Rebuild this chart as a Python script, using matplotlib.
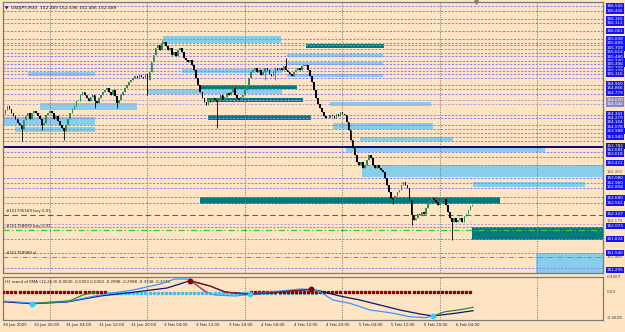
import numpy as np
import matplotlib
matplotlib.use("Agg")
import matplotlib.pyplot as plt
import matplotlib.transforms as mtransforms
from matplotlib.patches import Rectangle

# ─── Données (barres M30, barre 0 = 31 Jan 00:00) ───────────────────────────
FIRST_BAR = -23
OPEN0 = 154.35
CLOSES = [
    154.40, 154.48, 154.55, 154.50, 154.42, 154.35, 154.30, 154.22,
    154.18, 154.10, 154.28, 154.36, 154.42, 154.30, 154.42, 154.45,
    154.42, 154.36, 154.30, 154.18, 154.22, 154.38, 154.42, 154.46,
    154.42, 154.30, 154.36, 154.26, 154.18, 154.12, 154.06, 154.17,
    154.30, 154.42, 154.50, 154.56, 154.66, 154.66, 154.77, 154.83,
    154.77, 154.71, 154.66, 154.73, 154.77, 154.66, 154.61, 154.71,
    154.77, 154.83, 154.87, 154.91, 154.83, 154.77, 154.87, 154.75,
    154.61, 154.67, 154.77, 154.83, 154.91, 154.97, 155.03, 155.07,
    155.11, 155.15, 155.11, 155.17, 155.13, 155.11, 155.19, 155.07,
    155.23, 155.43, 155.57, 155.71, 155.77, 155.67, 155.79, 155.83,
    155.75, 155.67, 155.71, 155.57, 155.63, 155.55, 155.67, 155.71,
    155.63, 155.51, 155.47, 155.43, 155.47, 155.37, 155.27, 155.11,
    154.97, 154.83, 154.71, 154.63, 154.57, 154.67, 154.63, 154.71,
    154.67, 154.63, 154.71, 154.77, 154.67, 154.73, 154.81, 154.77,
    154.83, 154.91, 154.77, 154.71, 154.67, 154.73, 154.77, 154.87,
    154.97, 155.11, 155.23, 155.27, 155.31, 155.23, 155.27, 155.17,
    155.23, 155.31, 155.27, 155.19, 155.15, 155.23, 155.31, 155.27,
    155.31, 155.27, 155.35, 155.27, 155.23, 155.19, 155.15, 155.23,
    155.27, 155.31, 155.27, 155.35, 155.35, 155.37, 155.27, 155.15,
    155.03, 154.87, 154.71, 154.59, 154.51, 154.43, 154.35, 154.31,
    154.31, 154.37, 154.35, 154.31, 154.39, 154.35, 154.43, 154.39,
    154.37, 154.23, 154.08, 153.88, 153.72, 153.58, 153.44, 153.38,
    153.44, 153.32, 153.38, 153.48, 153.58, 153.52, 153.38, 153.32,
    153.38, 153.32, 153.28, 153.24, 153.12, 152.98, 152.84, 152.72,
    152.68, 152.76, 152.84, 152.88, 152.98, 153.04, 152.98, 152.92,
    152.68, 152.38, 152.29, 152.33, 152.41, 152.38, 152.45, 152.41,
    152.53, 152.61, 152.69, 152.73, 152.69, 152.65, 152.59, 152.65,
    152.69, 152.71, 152.59, 152.45, 152.33, 152.25, 152.33, 152.25,
    152.29, 152.33, 152.25, 152.37, 152.41, 152.49, 152.57, 152.59,
]
LOW_SPIKES = {-14: 153.85, -4: 154.08, 7: 153.88, 22: 154.51, 33: 154.51, 48: 154.77,
              82: 154.12, 106: 155.07, 111: 155.07, 169: 152.60, 178: 152.19, 198: 151.89}
HIGH_SPIKES = {55: 155.87, 116: 155.51, 90: 154.97}

# Zones (début, fin en barres ; bas, haut en prix ; type L = clair, D = foncé)
ZONE_START = [55.6, 126.0, 116.7, 116.7, 65.0, -10.8, 116.7, 73.9, 47.8, 77.3, -4.9, 137.9,
              77.8, -23.1, -17.2, 139.3, 152.6, 145.7, 153.6, 208.3, 73.9, 207.8, 239.3]
ZONE_END = [113.7, 164.4, 164.0, 164.0, 114.0, 22.2, 164.0, 121.6, 114.2, 124.6, 42.8, 187.6,
            128.5, 22.2, 22.2, 188.6, 198.4, 243.7, 290.0, 263.4, 221.6, 290.0, 290.0]
ZONE_LOW = [155.807, 155.707, 155.528, 155.369, 155.210, 155.151, 155.131, 154.892, 154.793,
            154.634, 154.475, 154.554, 154.276, 154.177, 154.038, 154.097, 153.859, 153.640,
            153.143, 152.944, 152.606, 151.891, 151.200]
ZONE_HIGH = [155.946, 155.787, 155.588, 155.429, 155.290, 155.230, 155.190, 154.972, 154.892,
             154.713, 154.614, 154.634, 154.375, 154.336, 154.137, 154.216, 153.938, 153.739,
             153.382, 153.044, 152.746, 152.149, 151.632]
ZONE_KIND = ["L", "D", "L", "L", "L", "L", "L", "D", "L", "D", "L", "L",
             "D", "L", "L", "L", "L", "L", "L", "L", "D", "D", "L"]

LEVELS = [156.542, 156.443, 156.284, 156.198, 156.045, 155.880, 155.813, 155.767, 155.693,
          155.602, 155.548, 155.449, 155.383, 155.304, 155.244, 155.190, 155.111, 154.966,
          154.886, 154.787, 154.375, 154.310, 154.177, 154.091, 154.024, 153.944, 153.865,
          153.646, 153.547, 153.382, 153.117, 153.030, 152.931, 152.740, 152.632, 152.143,
          151.903, 151.626, 151.328]
GREY_LEVELS = [154.674, 154.594, 152.211]
SUPPORT_LEVEL = 153.734
ORDER_PRICES = [152.388, 152.085, 151.559]
ORDER_TEXTS = ["#151735169 buy 0.01", "#151758839 buy 0.01", "#151759089 sl"]

AXIS_TEXTS = ["156.542", "156.445", "156.165", "156.113", "156.061", "155.838", "155.805",
              "155.709", "155.612", "155.480", "155.370", "155.306", "155.243", "155.179",
              "155.116", "154.960", "154.866", "154.779", "154.620", "154.542", "154.341",
              "154.279", "154.144", "154.078", "153.988", "153.940", "153.782", "153.681",
              "153.618", "153.421", "153.350", "153.080", "152.960", "152.858", "152.680",
              "152.561", "152.327", "152.170", "152.073", "151.824", "151.540", "151.466",
              "151.295"]
AXIS_PRICES = [156.542, 156.443, 156.284, 156.204, 156.045, 155.886, 155.813, 155.713,
               155.622, 155.534, 155.449, 155.383, 155.310, 155.250, 155.184, 154.986,
               154.906, 154.807, 154.674, 154.588, 154.389, 154.310, 154.230, 154.143,
               154.063, 153.944, 153.759, 153.680, 153.600, 153.415, 153.236, 153.117,
               153.030, 152.950, 152.732, 152.620, 152.408, 152.275, 152.170, 151.917,
               151.627, 151.559, 151.295]
AXIS_KIND = ["b"] * 18 + ["g", "g"] + ["b"] * 6 + ["n"] + ["b"] * 3 + ["t"] + ["b"] * 6 + \
            ["t", "b", "b", "b", "t", "b"]

TIME_BARS = [-23, -8, 8, 24, 40, 56, 72, 88, 104, 120, 136, 152, 168, 184, 200]
TIME_LABELS = ["30 Jan 2025", "30 Jan 20:00", "31 Jan 04:00", "31 Jan 12:00", "31 Jan 20:00",
               "3 Feb 04:00", "3 Feb 12:00", "3 Feb 20:00", "4 Feb 04:00", "4 Feb 12:00",
               "4 Feb 20:00", "5 Feb 04:00", "5 Feb 12:00", "5 Feb 20:00", "6 Feb 04:00"]
DAY_BARS = [0, 48, 96, 144, 192, 240]

# MACD
NAVY_X = [-23.1, -8.9, 8.4, 24.6, 40.9, 57.6, 68.9, 78.8, 86.2, 98.5, 114.7, 128.5, 132.9,
          142.8, 152.6, 162.5, 172.3, 182.2, 188.6, 199.4, 208.3]
NAVY_Y = [-0.213, -0.258, -0.22, -0.087, -0.004, 0.091, 0.253, 0.136, 0.002, -0.049, 0.009,
          0.062, 0.024, -0.087, -0.176, -0.287, -0.398, -0.487, -0.531, -0.471, -0.413]
BLUE_X = [-23.1, -8.9, 8.4, 24.6, 40.9, 54.2, 61.5, 68.9, 76.3, 81.2, 91.1, 98.5, 108.3,
          123.1, 128.5, 132.9, 139.3, 147.7, 157.6, 167.4, 177.3, 184.6, 188.6]
BLUE_Y = [-0.198, -0.242, -0.213, -0.064, 0.047, 0.18, 0.291, 0.291, 0.002, -0.064, -0.087,
          -0.049, 0.002, 0.069, 0.062, 0.009, -0.176, -0.249, -0.398, -0.458, -0.547, -0.569,
          -0.531]
GREEN1_X = [-8.9, 9.8, 16.2, 23.1]
GREEN1_Y = [-0.258, -0.191, -0.064, 0.002]
GREEN2_X = [188.6, 194.5, 201.9, 208.3]
GREEN2_Y = [-0.531, -0.436, -0.391, -0.338]
RED_X = [68.9, 77.3]
RED_Y = [0.253, 0.002]
MAROON_X = [68.9, 78.8, 86.2, 98.5, 114.7, 128.5]
MAROON_Y = [0.253, 0.136, 0.002, -0.049, 0.009, 0.062]
CROSS_UP_X = [-8.9, 98.5, 188.6]
CROSS_UP_Y = [-0.258, -0.049, -0.531]
CROSS_DN_X = [68.9, 128.5]
CROSS_DN_Y = [0.253, 0.062]
STATE_START = [-23, 29, 99]
STATE_END = [29, 133, 209]
STATE_KIND = ["dn", "up", "dn"]

# ─── Styles ─────────────────────────────────────────────────────────────────
BG = "#FFE4C4"
LIGHT = "#87CEEB"
DARK = "#007A80"
LEVEL_COLOR = "#8C7EF2"
FONT = "DejaVu Sans"
XLIM = (-23.14, 272.27)

fig = plt.figure(figsize=(6.25, 3.32), dpi=100, facecolor=BG)
ax = fig.add_axes([3 / 625, 1 - 273 / 332, 600 / 625, 271 / 332], facecolor=BG)
ax2 = fig.add_axes([3 / 625, 1 - 320 / 332, 600 / 625, 43 / 332], facecolor=BG)

for a in (ax, ax2):
    a.set_xlim(*XLIM)
    a.set_xticks([])
    a.set_yticks([])
    for s in a.spines.values():
        s.set_color("#7A7A7A")
        s.set_linewidth(0.9)
ax.set_ylim(151.235, 156.622)
ax2.set_ylim(-0.62, 0.336)

# ─── Zones ──────────────────────────────────────────────────────────────────
for x0, x1, lo, hi, k in zip(ZONE_START, ZONE_END, ZONE_LOW, ZONE_HIGH, ZONE_KIND):
    ax.add_patch(Rectangle((x0, lo), x1 - x0, hi - lo, facecolor=LIGHT if k == "L" else DARK,
                           edgecolor="none", zorder=1))

# ─── Niveaux ────────────────────────────────────────────────────────────────
for lv in LEVELS:
    ax.axhline(lv, color=LEVEL_COLOR, lw=0.75, ls=(0, (2.0, 1.5)), zorder=2)
for lv in GREY_LEVELS:
    ax.axhline(lv, color="#B0A4C8", lw=0.75, ls=(0, (2.0, 1.5)), zorder=2)
ax.axhline(SUPPORT_LEVEL, color="#0A0A78", lw=1.4, zorder=2)
ax.axhline(ORDER_PRICES[0], color="#2F7F2F", lw=0.8, ls=(0, (5, 3)), zorder=2)
ax.axhline(ORDER_PRICES[1], color="#33CC33", lw=0.9, ls=(0, (5, 2, 1, 2)), zorder=2)
ax.axhline(ORDER_PRICES[2], color="#F05A50", lw=0.7, ls=(0, (5, 2, 1, 2)), zorder=2)
for p, t in zip(ORDER_PRICES, ORDER_TEXTS):
    ax.text(-21.5, p + 0.035, t, fontsize=2.9, family=FONT, color="#202020",
            va="bottom", ha="left", zorder=5)

for a in (ax, ax2):
    for d in DAY_BARS:
        a.axvline(d, color="#707070", lw=0.7, ls=(0, (1, 1.5)), zorder=1.5)

# ─── Bougies ────────────────────────────────────────────────────────────────
bars = np.arange(FIRST_BAR, FIRST_BAR + len(CLOSES))
closes = np.array(CLOSES)
opens = np.concatenate([[OPEN0], closes[:-1]])
highs = np.maximum(opens, closes)
lows = np.minimum(opens, closes)
for b, v in LOW_SPIKES.items():
    lows[b - FIRST_BAR] = v
for b, v in HIGH_SPIKES.items():
    highs[b - FIRST_BAR] = v
up = closes >= opens
cols = np.where(up, "#2E8B57", "#000000")
ax.vlines(bars, lows, highs, colors=cols, lw=0.6, zorder=4)
body_lo = np.minimum(opens, closes)
body_h = np.maximum(np.abs(closes - opens), 0.012)
ax.bar(bars, body_h, bottom=body_lo, width=0.8, color=cols, lw=0, zorder=4)

# ─── Textes ─────────────────────────────────────────────────────────────────
ax.text(0.004, 0.985, "\u25bc  USDJPY,M30  152.489 152.596 152.406 152.589", transform=ax.transAxes,
        fontsize=3.2, family=FONT, color="#101010", va="top", ha="left", zorder=6)
ax.plot([209.7], [1.0], marker="v", ms=2.5, color="#808080",
        transform=mtransforms.blended_transform_factory(ax.transData, ax.transAxes),
        clip_on=False, zorder=6)

ytr = mtransforms.blended_transform_factory(ax.transAxes, ax.transData)
box_col = {"b": "#1414EE", "g": "#8C84C8", "n": "#1A1A6A"}
for t, p, k in zip(AXIS_TEXTS, AXIS_PRICES, AXIS_KIND):
    if k == "t":
        ax.text(1.006, p, t, transform=ytr, fontsize=2.8, family=FONT, color="#505050",
                va="center", ha="left", clip_on=False, zorder=6)
    else:
        ax.text(1.006, p, t, transform=ytr, fontsize=3.0, family=FONT, color="white",
                va="center", ha="left", clip_on=False, zorder=7,
                bbox=dict(boxstyle="square,pad=0.25", facecolor=box_col[k], edgecolor="none"))

# ─── MACD ───────────────────────────────────────────────────────────────────
for x0, x1, k in zip(STATE_START, STATE_END, STATE_KIND):
    xs = np.arange(x0, x1, 2)
    ax2.plot(xs, np.zeros(len(xs)) - (0.012 if k == "up" else 0), ls="none", marker="s", ms=1.7,
             color="#8B0000" if k == "dn" else "#40C0F0", zorder=3 if k == "dn" else 2)
ax2.plot(NAVY_X, NAVY_Y, color="#10107A", lw=0.9, zorder=4)
ax2.plot(BLUE_X, BLUE_Y, color="#3399FF", lw=0.9, zorder=4)
ax2.plot(MAROON_X, MAROON_Y, color="#8B1A1A", lw=0.9, zorder=5)
ax2.plot(RED_X, RED_Y, color="#FF2020", lw=0.8, zorder=5)
ax2.plot(GREEN1_X, GREEN1_Y, color="#2E8B2E", lw=0.9, zorder=5)
ax2.plot(GREEN2_X, GREEN2_Y, color="#2E8B2E", lw=0.9, zorder=5)
ax2.plot(CROSS_UP_X, CROSS_UP_Y, ls="none", marker="o", ms=3.2, color="#33CCFF", zorder=6)
ax2.plot(CROSS_DN_X, CROSS_DN_Y, ls="none", marker="o", ms=3.2, color="#8B0000", zorder=6)

ax2.text(0.004, 0.93, "H1 macd of EMA (12,26,9) 0.0000 -0.0000 0.0000 -0.2998 -0.2998 -0.3748 -0.3748",
         transform=ax2.transAxes, fontsize=2.9, family=FONT, color="#202020", va="top", ha="left")
ytr2 = mtransforms.blended_transform_factory(ax2.transAxes, ax2.transData)
for v, t in zip([0.3267, 0.0, -0.5828], ["0.3267", "0.00", "-0.5828"]):
    ax2.text(1.006, v, t, transform=ytr2, fontsize=3.0, family=FONT, color="#404040",
             va="center", ha="left", clip_on=False)

xtr = mtransforms.blended_transform_factory(ax2.transData, ax2.transAxes)
for b, t in zip(TIME_BARS, TIME_LABELS):
    ax2.text(b, -0.06, t, transform=xtr, fontsize=2.9, family=FONT, color="#202020",
             va="top", ha="left", clip_on=False)

fig.savefig("out.png", dpi=100, facecolor=BG)
